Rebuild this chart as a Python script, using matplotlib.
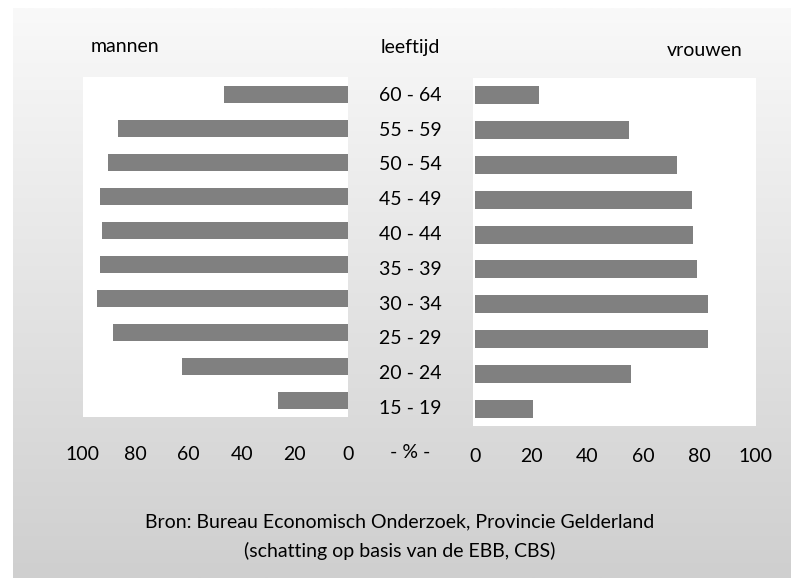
import matplotlib
matplotlib.use("Agg")
import matplotlib.pyplot as plt
import matplotlib.transforms as mtransforms
import numpy as np

plt.rcParams['font.family'] = ['Lato', 'DejaVu Sans']

age_groups = ["15 - 19", "20 - 24", "25 - 29", "30 - 34", "35 - 39",
              "40 - 44", "45 - 49", "50 - 54", "55 - 59", "60 - 64"]
mannen = [26.4, 62.6, 88.7, 94.7, 93.6, 92.8, 93.6, 90.6, 86.8, 46.8]
vrouwen = [20.6, 55.5, 82.9, 82.9, 79.0, 77.6, 77.2, 71.9, 54.8, 22.8]
tick_vals = [0, 20, 40, 60, 80, 100]
tick_labels = ["0", "20", "40", "60", "80", "100"]

W, H = 791, 578
fig = plt.figure(figsize=(W / 100, H / 100), dpi=100)
fig.patch.set_facecolor("white")

def fx(px):
    return px / W

def fy(py):
    return 1 - py / H

# gradient background panel
bg = fig.add_axes([fx(13), 0, 1 - fx(13), fy(8)])
grad = np.linspace(0, 1, 256).reshape(-1, 1)
bg.imshow(grad, aspect="auto", cmap=matplotlib.colors.LinearSegmentedColormap.from_list(
    "g", ["#f9f9f9", "#cfcfcf"]), extent=[0, 1, 0, 1], origin="upper")
bg.set_axis_off()
bg.set_zorder(0)

bar_color = "#808080"
y = np.arange(len(age_groups))

# left axes (mannen)
axL = fig.add_axes([fx(83), fy(417), fx(348 - 83), (417 - 77) / H])
axL.barh(y, mannen, height=0.5, color=bar_color)
axL.set_xlim(100, 0)
axL.set_ylim(-0.5, 9.5)
axL.set_facecolor("white")
axL.set_xticks([])
axL.set_yticks([])
for s in axL.spines.values():
    s.set_visible(False)

# right axes (vrouwen)
axR = fig.add_axes([fx(473), fy(426), fx(756 - 473), (426 - 78) / H])
axR.barh(y, vrouwen, height=0.52, color=bar_color)
axR.set_xlim(-0.8, 100)
axR.set_ylim(-0.5, 9.5)
axR.set_facecolor("white")
axR.set_xticks([])
axR.set_yticks([])
for s in axR.spines.values():
    s.set_visible(False)

fs = 14
# category labels in the middle
trans = mtransforms.blended_transform_factory(fig.transFigure, axR.transData)
for yi, lab in zip(y, age_groups):
    fig.text(fx(410), yi, lab, transform=trans, ha="center", va="center", fontsize=fs)

# tick labels left
for v, lab in zip(tick_vals, tick_labels):
    xpix = 348 - v * 2.655
    fig.text(fx(xpix), fy(454), lab, ha="center", va="center", fontsize=fs)
# tick labels right
for v, lab in zip(tick_vals, tick_labels):
    xpix = 475 + v * 2.80
    fig.text(fx(xpix), fy(457), lab, ha="center", va="center", fontsize=fs)

fig.text(fx(410), fy(452), "- % -", ha="center", va="center", fontsize=fs)
fig.text(fx(125), fy(47), "mannen", ha="center", va="center", fontsize=fs)
fig.text(fx(410), fy(47), "leeftijd", ha="center", va="center", fontsize=fs)
fig.text(fx(705), fy(50), "vrouwen", ha="center", va="center", fontsize=fs)

fig.text(fx(400), fy(522), "Bron: Bureau Economisch Onderzoek, Provincie Gelderland",
         ha="center", va="center", fontsize=fs)
fig.text(fx(400), fy(551), "(schatting op basis van de EBB, CBS)",
         ha="center", va="center", fontsize=fs)

fig.savefig("out.png", dpi=100)
